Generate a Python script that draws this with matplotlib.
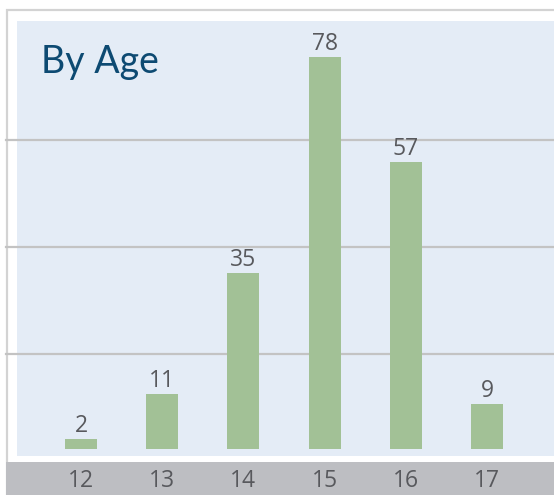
import matplotlib
matplotlib.use("Agg")
import matplotlib.pyplot as plt
from matplotlib.patches import Rectangle
import matplotlib.transforms as mtransforms

ages = ["12", "13", "14", "15", "16", "17"]
counts = [2, 11, 35, 78, 57, 9]
grid_values = [18.9, 40.2, 61.4]
title = "By Age"

W, H = 554, 495
fig = plt.figure(figsize=(W / 100, H / 100), dpi=100)
fig.patch.set_facecolor("white")

def fx(px):
    return px / W

def fy(py):
    return 1 - py / H

# outer border
fig.patches.append(Rectangle((fx(6.5), fy(500)), fx(560) - fx(6.5), fy(9.5) - fy(500),
                             transform=fig.transFigure, facecolor="white",
                             edgecolor="#d3d3d3", linewidth=1.6, zorder=-2))
# grey category band
fig.patches.append(Rectangle((fx(6), fy(495)), fx(554) - fx(6), fy(462) - fy(495),
                             transform=fig.transFigure, facecolor="#bdbec2",
                             edgecolor="none", zorder=-1))

ax = fig.add_axes([fx(17), fy(456), fx(554) - fx(17), fy(21) - fy(456)])
ax.set_zorder(1)
ax.set_facecolor("#e4ecf6")
ppu = 5.03
ax.set_ylim(-(456 - 449) / ppu, (449 - 21) / ppu)
step = 81.2
ax.set_xlim((17 - 81) / step, (554 - 81) / step)
for s in ax.spines.values():
    s.set_visible(False)
ax.set_xticks([])
ax.set_yticks([])

xs = list(range(len(ages)))
ax.bar(xs, counts, width=32 / step, color="#a2c196", zorder=3)

for g in grid_values:
    ax.axhline(g, xmin=(6 - 17) / 537, xmax=1, color="#c3c3c3", linewidth=1.6,
               clip_on=False, zorder=2)

for x, c in zip(xs, counts):
    ax.annotate(str(c), (x, c), xytext=(0, 7), textcoords="offset pixels",
                ha="center", va="baseline", fontsize=16.5, color="#58595d",
                family="Open Sans")

trans = mtransforms.blended_transform_factory(ax.transData, fig.transFigure)
for x, lab in zip(xs, ages):
    ax.text(x, fy(487), lab, transform=trans, ha="center", va="baseline",
            fontsize=16.5, color="#58595d", family="Open Sans", clip_on=False)

fig.text(fx(41), fy(73.5), title, ha="left", va="baseline", fontsize=27,
         color="#0d4a72", family="Lato", zorder=5)

fig.savefig("out.png", dpi=100, facecolor="white")
